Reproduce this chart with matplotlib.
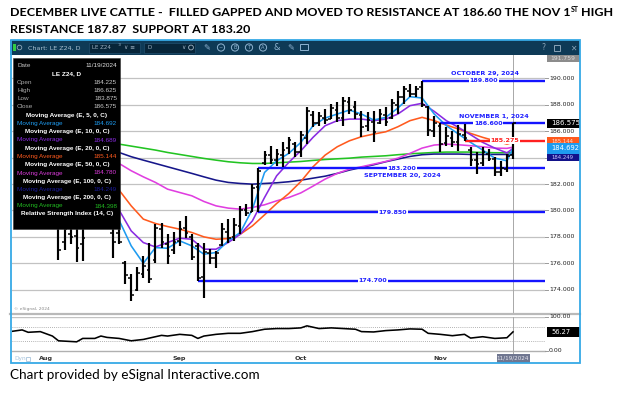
import matplotlib
matplotlib.use('Agg')
import matplotlib.pyplot as plt
from matplotlib.patches import Rectangle, Circle
import pandas as pd

# ---------------- data ----------------
bar_dates = ['2024-08-05','2024-08-06','2024-08-07','2024-08-08','2024-08-09',
             '2024-08-16','2024-08-19','2024-08-20','2024-08-21','2024-08-22','2024-08-23',
             '2024-08-26','2024-08-27','2024-08-28','2024-08-29','2024-08-30',
             '2024-09-03','2024-09-04','2024-09-05','2024-09-06',
             '2024-09-09','2024-09-10','2024-09-11','2024-09-12','2024-09-13',
             '2024-09-16','2024-09-17','2024-09-18','2024-09-19','2024-09-20',
             '2024-09-23','2024-09-24','2024-09-25','2024-09-26','2024-09-27','2024-09-30',
             '2024-10-01','2024-10-02','2024-10-03','2024-10-04',
             '2024-10-07','2024-10-08','2024-10-09','2024-10-10','2024-10-11',
             '2024-10-14','2024-10-15','2024-10-16','2024-10-17','2024-10-18',
             '2024-10-21','2024-10-22','2024-10-23','2024-10-24','2024-10-25',
             '2024-10-28','2024-10-29','2024-10-30','2024-10-31','2024-11-01',
             '2024-11-04','2024-11-05','2024-11-06','2024-11-07','2024-11-08',
             '2024-11-11','2024-11-12','2024-11-13','2024-11-14','2024-11-15',
             '2024-11-18','2024-11-19']
bar_open = [179.0, 177.6, 178.2, 178.1, 177.5,
            178.3, 178.3, 176.0, 174.9, 174.0, 175.2,
            175.5, 176.3, 178.6, 177.5, 177.0,
            177.7, 178.7, 178.0, 177.3,
            175.0, 176.8, 176.4, 177.4, 178.4,
            178.0, 178.8, 180.0, 179.9, 181.8,
            183.6, 184.2, 183.8, 184.2, 184.7, 185.0,
            184.4, 185.5, 187.2, 186.6,
            187.0, 186.9, 187.6, 187.0, 188.2,
            187.8, 187.2, 186.4, 186.7, 186.6,
            187.2, 187.0, 188.0, 188.6, 189.0,
            188.8, 189.3, 187.8, 186.0, 186.4,
            185.1, 185.5, 185.2, 185.7, 184.6,
            183.8, 183.6, 184.3, 183.9, 182.9,
            183.1, 184.225]
bar_high = [179.6, 179.4, 179.2, 179.0, 178.8,
            179.3, 178.7, 176.2, 175.2, 175.7, 176.57,
            177.58, 178.97, 179.09, 178.2, 178.34,
            179.22, 179.6, 178.21, 177.51,
            177.51, 177.08, 176.95, 179.09, 179.35,
            179.47, 180.35, 180.48, 181.99, 183.2,
            184.51, 184.89, 184.63, 185.14, 185.57, 185.14,
            186.02, 187.78, 187.53, 187.41,
            187.66, 188.04, 188.16, 188.54, 188.54,
            188.29, 187.53, 187.41, 187.53, 187.66,
            187.78, 188.41, 189.04, 189.42, 189.55,
            189.42, 189.8, 187.91, 187.15, 186.6,
            186.27, 186.02, 186.45, 186.52, 184.76,
            184.38, 184.76, 184.63, 184.01, 183.75,
            184.26, 186.625]
bar_low = [176.3, 177.0, 177.5, 176.1, 176.2,
           176.45, 177.45, 174.43, 173.17, 173.9, 174.94,
           174.56, 176.07, 177.2, 175.94, 176.7,
           177.33, 177.96, 176.25, 174.7,
           173.43, 175.94, 175.69, 177.33, 177.58,
           177.71, 178.21, 179.6, 179.9, 179.85,
           183.4, 183.5, 183.38, 183.3, 184.26, 184.01,
           184.01, 185.01, 186.27, 186.4,
           186.52, 186.9, 186.65, 186.4, 187.28,
           186.9, 185.52, 186.02, 185.14, 186.52,
           186.4, 186.9, 187.28, 188.04, 188.54,
           188.54, 187.78, 185.64, 185.52, 184.38,
           184.89, 184.76, 184.51, 185.26, 183.38,
           182.75, 183.38, 183.75, 182.62, 182.62,
           182.87, 183.875]
bar_close = [177.0, 178.6, 178.0, 177.2, 177.9,
             177.6, 177.6, 175.1, 173.6, 175.3, 175.8,
             174.8, 178.7, 177.6, 176.6, 177.6,
             178.6, 178.3, 176.5, 174.9,
             176.9, 176.4, 176.8, 178.6, 177.9,
             178.9, 180.0, 179.8, 181.7, 183.0,
             184.2, 183.8, 184.3, 184.6, 185.3, 184.4,
             185.7, 187.5, 186.6, 187.1,
             186.8, 187.7, 187.0, 188.3, 187.6,
             187.3, 186.3, 186.8, 185.9, 187.3,
             186.7, 188.1, 188.6, 189.2, 188.8,
             189.2, 188.0, 186.1, 186.6, 185.0,
             185.6, 185.2, 185.8, 185.5, 183.8,
             183.5, 184.4, 183.9, 182.9, 183.2,
             184.1, 186.575]

# moving averages, sampled at trading-day number (0 = 2024-07-24)
ma_idx = [18, 20, 22, 24, 26, 28, 30, 32, 34, 36, 38, 40, 42, 44, 46, 48, 50,
          52, 54, 56, 58, 60, 62, 64, 66, 68, 70, 72, 74, 76, 78, 80, 82, 83]
ema5 = [179.27, 177.33, 176.02, 177.20, 177.15, 177.71, 177.33, 176.70, 176.83, 177.71,
        178.34, 180.10, 182.87, 183.75, 184.31, 185.14, 186.40, 186.98, 187.28, 187.58,
        187.28, 186.83, 187.03, 187.73, 188.59, 188.49, 187.28, 186.40, 185.77, 185.14,
        184.56, 183.95, 183.75, 184.692]
ema10 = [180.03, 178.46, 177.58, 177.25, 177.58, 177.91, 177.83, 177.08, 177.08, 177.58,
         178.21, 179.22, 180.98, 182.62, 183.63, 184.51, 185.52, 186.40, 186.78, 186.90,
         186.90, 186.78, 186.90, 187.28, 187.91, 188.09, 187.48, 186.78, 186.27, 185.72,
         185.14, 184.71, 184.35, 184.689]
ema20 = [181.54, 180.35, 179.35, 179.02, 178.79, 178.59, 178.34, 178.01, 177.83, 177.88,
         178.21, 178.84, 179.67, 180.53, 181.28, 182.19, 183.30, 184.18, 184.81, 185.26,
         185.57, 185.77, 185.94, 186.32, 186.78, 187.03, 186.78, 186.45, 186.15, 185.82,
         185.52, 185.26, 185.01, 185.144]
ema50 = [183.55, 183.00, 182.54, 182.12, 181.61, 181.36, 181.11, 180.68, 180.35, 180.18,
         180.10, 180.23, 180.43, 180.73, 180.98, 181.33, 181.84, 182.37, 182.80, 183.12,
         183.30, 183.50, 183.70, 183.95, 184.31, 184.71, 184.94, 185.01, 184.96, 184.89,
         184.81, 184.71, 184.69, 184.78]
ema100 = [184.38, 184.06, 183.80, 183.55, 183.30, 183.05, 182.80, 182.54, 182.29, 182.12,
          182.04, 181.99, 182.04, 182.09, 182.17, 182.29, 182.44, 182.59, 182.80, 183.05,
          183.25, 183.45, 183.68, 183.88, 184.08, 184.21, 184.26, 184.26, 184.26, 184.23,
          184.23, 184.23, 184.23, 184.249]
ema200 = [185.01, 184.86, 184.71, 184.56, 184.38, 184.23, 184.08, 183.93, 183.80, 183.68,
          183.60, 183.55, 183.55, 183.60, 183.65, 183.70, 183.78, 183.85, 183.90, 183.95,
          184.03, 184.08, 184.13, 184.21, 184.28, 184.33, 184.38, 184.41, 184.41, 184.41,
          184.38, 184.36, 184.36, 184.398]

rsi_idx = [0, 2, 3, 5, 7, 8, 10, 11, 12, 14, 15, 16, 18, 20, 22, 24, 25, 26, 28, 30,
           31, 32, 34, 36, 38, 40, 42, 44, 46, 48, 49, 51, 53, 55, 57, 58, 60, 62, 64, 66,
           68, 69, 71, 73, 75, 76, 78, 80, 82, 83]
rsi_val = [57, 62, 55, 57, 44, 30, 28, 27, 37, 37, 44, 40, 37, 30, 34, 42, 46, 44, 49, 46,
           37, 44, 49, 52, 52, 57, 64, 66, 66, 68, 74, 66, 68, 66, 64, 57, 56, 60, 62, 65,
           64, 52, 49, 45, 49, 38, 42, 37, 39, 56.27]

level_values = [189.80, 186.60, 185.275, 183.20, 179.85, 174.70]
level_start = ['2024-10-29', '2024-11-01', '2024-11-07', '2024-09-20', '2024-09-20', '2024-09-06']
level_text = ['189.800', '186.600', '185.275', '183.200', '179.850', '174.700']
level_date_text = ['OCTOBER 29, 2024', 'NOVEMBER 1, 2024', '', 'SEPTEMBER 20, 2024', '', '']

month_labels = ['Aug', 'Sep', 'Oct', 'Nov']
month_dates = ['2024-08-01', '2024-09-03', '2024-10-01', '2024-11-01']
price_ticks = [174, 176, 178, 180, 182, 184, 186, 188, 190]
hidden_tick_labels = [184]   # covered by the value tags in the reference

panel_rows = [('Open', '184.225'), ('High', '186.625'), ('Low', '183.875'), ('Close', '186.575')]
panel_ma = [('Moving Average (E, 5, 0, C)', '184.692', '#1e9bf0'),
            ('Moving Average (E, 10, 0, C)', '184.689', '#8a2be2'),
            ('Moving Average (E, 20, 0, C)', '185.144', '#ff5a1e'),
            ('Moving Average (E, 50, 0, C)', '184.780', '#d83ad8'),
            ('Moving Average (E, 100, 0, C)', '184.249', '#1a1a9a'),
            ('Moving Average (E, 200, 0, C)', '184.398', '#22bb22')]
ma_colors = ['#1e9bf0', '#8a2be2', '#ff5a1e', '#e03ee0', '#16168a', '#22c422']

# ---------------- calendar ----------------
cal = [d for d in pd.bdate_range('2024-07-24', '2024-11-19') if d != pd.Timestamp('2024-09-02')]
pos = {d.strftime('%Y-%m-%d'): i for i, d in enumerate(cal)}
bx = [pos[d] for d in bar_dates]
LAST = pos['2024-11-19']

# ---------------- figure & layout ----------------
W, H = 633, 393
fig = plt.figure(figsize=(W / 100, H / 100), dpi=100)
fig.patch.set_facecolor('white')

PL, PR = 12, 545
PT, PB = 55, 313
RT, RB = 317, 351
XL, XR = 0.33, 88.28

ax = fig.add_axes([PL / W, 1 - PB / H, (PR - PL) / W, (PB - PT) / H])
ax2 = fig.add_axes([PL / W, 1 - RB / H, (PR - PL) / W, (RB - RT) / H])
ov = fig.add_axes([0, 0, 1, 1], zorder=10)
ov.set_xlim(0, W); ov.set_ylim(H, 0); ov.axis('off'); ov.patch.set_visible(False)

for a in (ax, ax2):
    a.set_xlim(XL, XR)
    for s in a.spines.values():
        s.set_visible(False)
    a.set_xticks([]); a.set_yticks([])
    a.set_facecolor('white')
ax.set_ylim(172.264, 191.736)
ax2.set_ylim(0, 100)

UI = 'DejaVu Sans'

# grid
for p in price_ticks:
    ax.axhline(p, color='#c2c2c2', lw=0.9, zorder=1)
ax2.axhline(100, color='#c2c2c2', lw=1.0, zorder=1)
ax2.axhline(0, color='#b0b0b0', lw=1.0, zorder=1, clip_on=False)
for v in (70, 30):
    ax2.axhline(v, color='#9a9a9a', lw=0.6, ls=(0, (1, 1.5)), zorder=1)

# crosshair
for a in (ax, ax2):
    a.axvline(LAST, color='#a8a8a8', lw=0.7, zorder=1.5)

# moving averages
for vals, col in zip([ema200, ema100, ema50, ema20, ema10, ema5], ma_colors[::-1]):
    ax.plot(ma_idx, vals, color=col, lw=1.15, zorder=3, solid_capstyle='round')

# support / resistance lines
for val, st in zip(level_values, level_start):
    col = '#ff2020' if val == 185.275 else '#1414ff'
    ax.hlines(val, pos[st], XR + 1, color=col, lw=1.7, zorder=4)

# OHLC bars
tk = 0.45
ax.vlines(bx, bar_low, bar_high, color='black', lw=1.55, zorder=5)
ax.hlines(bar_open, [x - tk for x in bx], bx, color='black', lw=1.1, zorder=5)
ax.hlines(bar_close, bx, [x + tk for x in bx], color='black', lw=1.1, zorder=5)

# level labels
lab_pos = {'189.800': 78.2, '186.600': 78.9, '185.275': 81.7, '183.200': 64.7,
           '179.850': 63.2, '174.700': 59.9}
for val, txt, dtxt in zip(level_values, level_text, level_date_text):
    col = '#ff2020' if val == 185.275 else '#1f1fff'
    xi = lab_pos[txt]
    ax.text(xi, val, txt, color=col, fontsize=4.6, fontweight='bold', family=UI,
            ha='center', va='center', zorder=6,
            bbox=dict(boxstyle='square,pad=0.1', fc='white', ec='none'))
    if dtxt:
        off = -7 if val == 183.20 else 7
        ax.annotate(dtxt, (xi + (1.0 if val == 186.60 else 0.1), val), xytext=(0, off * 0.72),
                    textcoords='offset points', color=col, fontsize=4.6, fontweight='bold',
                    family=UI, ha='center', va='center', zorder=6)

# RSI
ax2.plot(rsi_idx, rsi_val, color='black', lw=1.15, zorder=3)

# ---------------- overlay (pixel coords) ----------------
def py(p):
    return H - ax.transData.transform((0, p))[1]

def ry(v):
    return H - ax2.transData.transform((0, v))[1]

def xpx(i):
    return ax.transData.transform((i, 0))[0]

# chart frame and header
ov.add_patch(Rectangle((10, 40), 570, 15, fc='#0e3a56', ec='none', zorder=1))
ov.add_patch(Rectangle((10.5, 40), 569.5, 323, fc='none', ec='#36a9e6', lw=1.3, zorder=6))
ov.plot([10, 580], [313.5, 313.5], color='#b9b9b9', lw=1.6, zorder=2)

ov.add_patch(Rectangle((13, 44), 2.5, 7, fc='#33cc44', ec='none', zorder=2))
ov.add_patch(Circle((19.5, 47.5), 2.3, fc='none', ec='#8fa7b8', lw=0.6, zorder=2))
ov.text(28, 47.8, 'Chart: LE Z24, D', color='#a9bfcf', fontsize=4.6, family=UI, va='center', zorder=3)
ov.add_patch(Rectangle((89, 42.5), 51, 10, fc='#072539', ec='#22506e', lw=0.5, zorder=2))
ov.text(92, 47.8, 'LE Z24', color='#9fb2c2', fontsize=4.0, family=UI, va='center', zorder=3)
ov.text(118, 45.5, '13', color='#7f98ab', fontsize=2.4, family=UI, va='center', zorder=3)
ov.text(124, 47.8, '\u2228 \u2261', color='#9fb2c2', fontsize=4.2, family=UI, va='center', zorder=3)
ov.add_patch(Rectangle((144, 42.5), 51, 10, fc='#072539', ec='#22506e', lw=0.5, zorder=2))
ov.text(147, 47.8, 'D', color='#9fb2c2', fontsize=4.0, family=UI, va='center', zorder=3)
ov.text(181, 47.8, '\u2228', color='#9fb2c2', fontsize=4.2, family=UI, va='center', zorder=3)
ov.add_patch(Circle((191, 47.5), 2.4, fc='none', ec='#9fb2c2', lw=0.6, zorder=3))
ov.text(207, 47.8, '\u270e', color='#8fb3d0', fontsize=6, family=UI, va='center', ha='center', zorder=3)
for xc, ch in zip([221, 235, 249, 263], ['~', 'B', 'T', 'A']):
    ov.add_patch(Circle((xc, 47.5), 3.6, fc='none', ec='#8fb3d0', lw=0.7, zorder=3))
    ov.text(xc, 47.8, ch, color='#8fb3d0', fontsize=3.6, family=UI, va='center', ha='center', zorder=3)
ov.text(277, 47.8, '&', color='#8fb3d0', fontsize=6, family=UI, va='center', ha='center', zorder=3)
ov.text(291, 47.8, '\u270e', color='#8fb3d0', fontsize=6, family=UI, va='center', ha='center', zorder=3)
ov.add_patch(Rectangle((300, 44), 8, 6, fc='none', ec='#8fb3d0', lw=0.7, zorder=3))
ov.text(543, 47.8, '?', color='#8aa4b8', fontsize=5.5, family=UI, va='center', ha='center', zorder=3)
ov.add_patch(Rectangle((554, 44.5), 6, 6, fc='none', ec='#8aa4b8', lw=0.7, zorder=3))
ov.text(573, 47.8, '\u2715', color='#8aa4b8', fontsize=5.5, family=UI, va='center', ha='center', zorder=3)

# price axis labels
for p in price_ticks:
    ov.plot([545, 548], [py(p), py(p)], color='#9a9a9a', lw=0.7, zorder=2)
    if p in hidden_tick_labels:
        continue
    ov.text(549, py(p), f'{p:.3f}', color='#222222', fontsize=4.5, family=UI, va='center', ha='left', zorder=2)
ov.add_patch(Rectangle((547, 55), 33, 6.5, fc='#8c8c8c', ec='none', zorder=3))
ov.text(550, 58.3, '191.759', color='#dcdcdc', fontsize=4.3, family=UI, va='center', zorder=4)

def tag(val, fc, tc, h, fs, z, dy=0.0):
    yc = py(val) + dy
    ov.add_patch(Rectangle((547, yc - h / 2), 33, h, fc=fc, ec='none', zorder=z))
    ov.text(551, yc, f'{val:.3f}', color=tc, fontsize=fs, family=UI, va='center', ha='left', zorder=z + 0.1)

tag(184.249, '#12128a', '#c8c8ff', 7.5, 3.9, 3, dy=2.8)
tag(185.144, '#ff5a1e', '#ffe0d0', 8, 3.9, 3.2, dy=-1.2)
tag(184.692, '#1e9bf0', 'white', 10.5, 4.9, 3.4)
tag(186.575, 'black', 'white', 9.5, 5.0, 3.6)

# RSI labels
for v, s in ((100, '100.00'), (0, '0.00')):
    ov.plot([545, 548], [ry(v), ry(v)], color='#9a9a9a', lw=0.7, zorder=2)
    ov.text(549, ry(v), s, color='#222222', fontsize=4.5, family=UI, va='center', zorder=2)
ov.add_patch(Rectangle((547, ry(56.27) - 5), 33, 10, fc='black', ec='none', zorder=3))
ov.text(551, ry(56.27), '56.27', color='white', fontsize=4.8, family=UI, va='center', zorder=4)

# x labels
for lab, d in zip(month_labels, month_dates):
    ov.text(xpx(pos[d]), 358.5, lab, color='#333333', fontsize=4.6, fontweight='bold',
            family=UI, ha='center', va='center', zorder=2)
xl = xpx(LAST)
ov.plot([xl, xl], [351, 354], color='#a8a8a8', lw=0.7, zorder=2)
ov.add_patch(Rectangle((xl - 16.5, 354), 33, 8.5, fc='#6f7690', ec='none', zorder=3))
ov.text(xl, 358.3, '11/19/2024', color='#e8e8f0', fontsize=4.1, family=UI, ha='center', va='center', zorder=4)
ov.text(14, 358.5, 'Dyn', color='#a8c4dc', fontsize=4.2, family=UI, va='center', zorder=2)
ov.add_patch(Rectangle((26, 357), 4, 4, fc='none', ec='#a8c4dc', lw=0.6, zorder=2))
ov.text(14, 309, '\u00a9 eSignal, 2024', color='#888888', fontsize=3.2, family=UI, va='center', zorder=2)

# info panel
ov.add_patch(Rectangle((13, 58), 107, 171, fc='black', ec='#333333', lw=0.4, zorder=7))
PF = 'Liberation Sans'
def prow(y, left, right, lc, rc, bold=False):
    ov.text(17, y, left, color=lc, fontsize=4.6, family=PF, va='center', ha='left', zorder=8,
            fontweight='bold' if bold else 'normal')
    ov.text(117, y, right, color=rc, fontsize=4.6, family=PF, va='center', ha='right', zorder=8)

def phead(y, s):
    ov.text(67, y, s, color='white', fontsize=4.6, family=PF, fontweight='bold', va='center',
            ha='center', zorder=8)

prow(65.7, 'Date', '11/19/2024', '#c0c0c0', '#e0e0e0')
phead(73.7, 'LE Z24, D')
yy = 82.3
for lab, v in panel_rows:
    prow(yy, lab, v, '#a8a8a8', '#c8c8c8')
    yy += 8.2
yy = 115.3
for head, v, col in panel_ma:
    phead(yy, head)
    prow(yy + 8.2, 'Moving Average', v, col, col)
    yy += 16.5
phead(214, 'Relative Strength Index (14, C)')

# ---------------- titles ----------------
renderer = fig.canvas.get_renderer()
TF = 'Lato'

def width(s, fs, weight):
    t = ov.text(0, 0, s, fontsize=fs, family=TF, fontweight=weight)
    w = t.get_window_extent(renderer).width
    t.remove()
    return w

pA = 'DECEMBER LIVE CATTLE -  FILLED GAPPED AND MOVED TO RESISTANCE AT 186.60 THE NOV 1'
pS = 'ST'
pC = ' HIGH'
base = 10.0
tot = width(pA, base, 'bold') + width(pS, base * 0.55, 'bold') + width(pC, base, 'bold')
fs = base * 603.0 / tot
wA = width(pA, fs, 'bold'); wS = width(pS, fs * 0.55, 'bold')
ov.text(10, 16, pA, fontsize=fs, family=TF, fontweight='bold', va='baseline', color='black')
ov.text(10 + wA, 11.5, pS, fontsize=fs * 0.55, family=TF, fontweight='bold', va='baseline', color='black')
ov.text(10 + wA + wS, 16, pC, fontsize=fs, family=TF, fontweight='bold', va='baseline', color='black')
ov.text(10, 33, 'RESISTANCE 187.87  SUPPORT AT 183.20', fontsize=fs, family=TF, fontweight='bold',
        va='baseline', color='black')
cap = 'Chart provided by eSignal Interactive.com'
cfs = 10.0 * 248.0 / width(cap, 10.0, 'normal')
ov.text(10, 379, cap, fontsize=cfs, family=TF, va='baseline', color='black')

fig.savefig('out.png', dpi=100, facecolor='white')
